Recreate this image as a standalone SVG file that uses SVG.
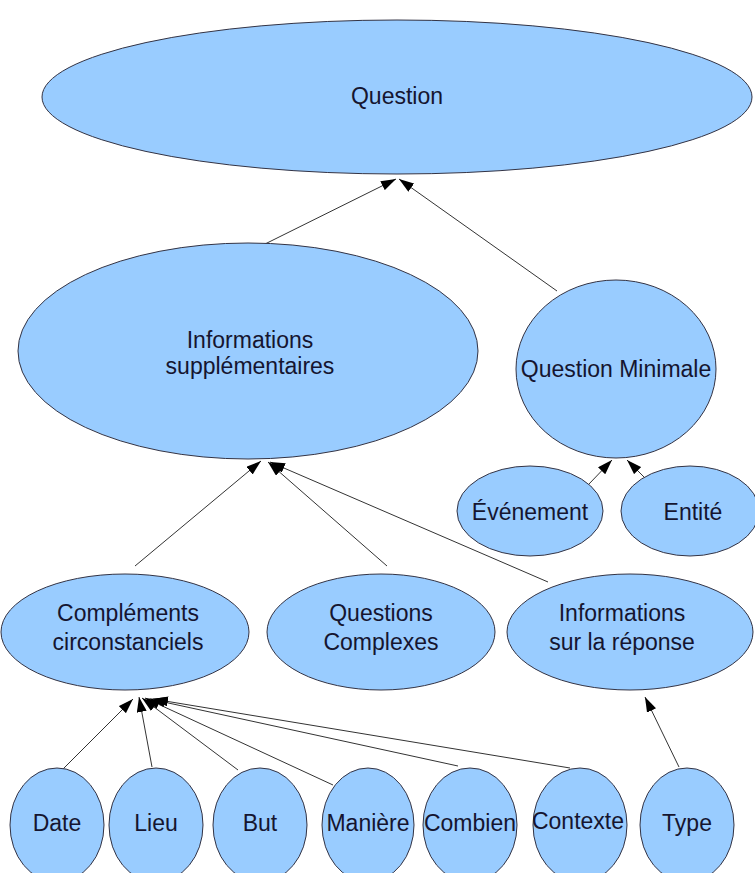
<svg xmlns="http://www.w3.org/2000/svg" width="755" height="873" viewBox="0 0 755 873">
<style>
.n{fill:#99ccff;stroke:#333344;stroke-width:1}
.t{font-family:"Liberation Sans",Arial,sans-serif;font-size:23px;fill:#151530;text-anchor:middle;dominant-baseline:central}
.c{stroke:#333333;stroke-width:1;fill:none;marker-end:url(#ah)}
</style>
<defs>
<marker id="ah" viewBox="0 0 15 10" refX="15" refY="5" markerWidth="15" markerHeight="10" markerUnits="userSpaceOnUse" orient="auto">
<path d="M0,0 L15,5 L0,10 Z" fill="#000"/>
</marker>
</defs>
<rect width="755" height="873" fill="#fff"/>
<g id="connectors">
<line class="c" x1="263" y1="245" x2="396" y2="179"/>
<line class="c" x1="557" y1="291" x2="399" y2="179"/>
<line class="c" x1="135" y1="566" x2="261" y2="461"/>
<line class="c" x1="387" y1="566" x2="268" y2="462"/>
<line class="c" x1="548" y1="582" x2="270" y2="462"/>
<line class="c" x1="589" y1="484" x2="612" y2="460"/>
<line class="c" x1="645" y1="478" x2="627" y2="460"/>
<line class="c" x1="679" y1="767" x2="645" y2="697"/>
<line class="c" x1="62" y1="770" x2="133" y2="699"/>
<line class="c" x1="152" y1="767" x2="139" y2="697"/>
<line class="c" x1="238" y1="770" x2="142" y2="698"/>
<line class="c" x1="333" y1="785" x2="145" y2="698"/>
<line class="c" x1="458" y1="766" x2="150" y2="699"/>
<line class="c" x1="570" y1="768" x2="153" y2="699"/>
</g>
<g id="question"><ellipse class="n" cx="397" cy="97" rx="355" ry="77"/><text class="t" x="397" y="96">Question</text></g>
<g id="infos-supp"><ellipse class="n" cx="248" cy="351" rx="230" ry="108"/><text class="t" x="250" y="340">Informations</text><text class="t" x="250" y="366">supplémentaires</text></g>
<g id="question-minimale"><ellipse class="n" cx="616" cy="369" rx="100" ry="89"/><text class="t" x="616" y="369">Question Minimale</text></g>
<g id="evenement"><ellipse class="n" cx="530" cy="511" rx="73" ry="45"/><text class="t" x="530" y="512">Événement</text></g>
<g id="entite"><ellipse class="n" cx="690" cy="511" rx="69" ry="45"/><text class="t" x="693" y="512">Entité</text></g>
<g id="complements"><ellipse class="n" cx="125" cy="632" rx="124" ry="58"/><text class="t" x="128" y="613">Compléments</text><text class="t" x="128" y="642">circonstanciels</text></g>
<g id="questions-complexes"><ellipse class="n" cx="381" cy="632" rx="114" ry="58"/><text class="t" x="381" y="613">Questions</text><text class="t" x="381" y="642">Complexes</text></g>
<g id="infos-reponse"><ellipse class="n" cx="630" cy="632" rx="123" ry="58"/><text class="t" x="622" y="613">Informations</text><text class="t" x="622" y="642">sur la réponse</text></g>
<g id="date"><ellipse class="n" cx="57" cy="825" rx="47" ry="57"/><text class="t" x="57" y="823">Date</text></g>
<g id="lieu"><ellipse class="n" cx="156" cy="825" rx="47" ry="57"/><text class="t" x="156" y="823">Lieu</text></g>
<g id="but"><ellipse class="n" cx="260" cy="825" rx="47" ry="57"/><text class="t" x="260" y="823">But</text></g>
<g id="maniere"><ellipse class="n" cx="368" cy="825" rx="46" ry="57"/><text class="t" x="368" y="823">Manière</text></g>
<g id="combien"><ellipse class="n" cx="470" cy="825" rx="47" ry="57"/><text class="t" x="470" y="823">Combien</text></g>
<g id="contexte"><ellipse class="n" cx="580" cy="825" rx="47" ry="57"/><text class="t" x="578" y="821">Contexte</text></g>
<g id="type"><ellipse class="n" cx="687" cy="825" rx="47" ry="57"/><text class="t" x="687" y="823">Type</text></g>
</svg>
